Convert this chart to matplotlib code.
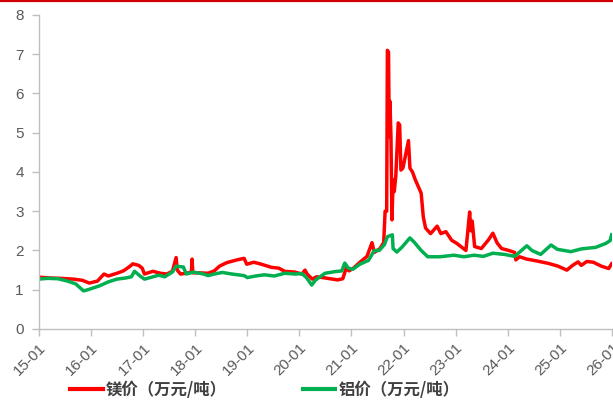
import matplotlib
matplotlib.use("Agg")
import matplotlib.pyplot as plt
import matplotlib.dates as mdates
from matplotlib.lines import Line2D
import pandas as pd

# 镁价 (万元/吨)
mg_dates = [
    "2015-01-01", "2015-03-15", "2015-06-01", "2015-09-01", "2015-11-01", "2015-12-20",
    "2016-02-15", "2016-04-01", "2016-05-01", "2016-07-01", "2016-08-15", "2016-10-01",
    "2016-10-20", "2016-12-01", "2016-12-25", "2017-01-10", "2017-03-10", "2017-05-01",
    "2017-06-15", "2017-07-25", "2017-08-20", "2017-08-28", "2017-09-20", "2017-11-01",
    "2017-12-05", "2017-12-10", "2017-12-15", "2018-02-01", "2018-04-01", "2018-05-15",
    "2018-06-20", "2018-08-10", "2018-10-20", "2018-12-10", "2018-12-28", "2019-02-15",
    "2019-04-01", "2019-06-20", "2019-08-10", "2019-09-20", "2019-12-01", "2020-01-20",
    "2020-02-10", "2020-02-25", "2020-04-01", "2020-05-01", "2020-07-01", "2020-09-25",
    "2020-11-01", "2020-11-25", "2020-12-15", "2021-01-15", "2021-03-01", "2021-04-20",
    "2021-05-25", "2021-06-10", "2021-07-20", "2021-08-15", "2021-08-25", "2021-09-05",
    "2021-09-10", "2021-09-18", "2021-09-23", "2021-09-28", "2021-10-05", "2021-10-12",
    "2021-10-20", "2021-10-28", "2021-11-08", "2021-11-25", "2021-12-05", "2021-12-14",
    "2021-12-28", "2022-02-05", "2022-02-15", "2022-03-05", "2022-03-25", "2022-05-05",
    "2022-05-20", "2022-06-05", "2022-07-10", "2022-08-25", "2022-09-20", "2022-10-25",
    "2022-12-05", "2023-01-10", "2023-03-15", "2023-04-10", "2023-04-18", "2023-04-28",
    "2023-05-15", "2023-07-01", "2023-08-20", "2023-09-20", "2023-10-20", "2023-11-20",
    "2024-01-10", "2024-02-20", "2024-02-28", "2024-03-25", "2024-05-15", "2024-07-15",
    "2024-10-15", "2024-12-20", "2025-02-20", "2025-04-01", "2025-05-10", "2025-06-01",
    "2025-07-10", "2025-08-25", "2025-10-20", "2025-12-10", "2025-12-31",
]
mg_price = [
    1.32, 1.30, 1.29, 1.27, 1.24, 1.17,
    1.22, 1.40, 1.35, 1.42, 1.48, 1.60,
    1.66, 1.62, 1.55, 1.40, 1.47, 1.42,
    1.40, 1.47, 1.82, 1.50, 1.40, 1.42,
    1.45, 1.78, 1.43, 1.43, 1.42, 1.48,
    1.60, 1.69, 1.76, 1.80, 1.65, 1.70,
    1.66, 1.57, 1.55, 1.47, 1.45, 1.40,
    1.50, 1.40, 1.27, 1.33, 1.30, 1.25,
    1.28, 1.55, 1.48, 1.55, 1.70, 1.85,
    2.20, 1.95, 2.05, 2.20, 3.00, 3.00,
    7.10, 7.05, 4.90, 5.80, 4.90, 2.78,
    3.80, 3.50, 3.90, 5.25, 5.20, 4.05,
    4.10, 4.80, 4.10, 4.00, 3.80, 3.46,
    2.85, 2.57, 2.43, 2.62, 2.43, 2.48,
    2.26, 2.18, 2.00, 2.98, 2.50, 2.75,
    2.10, 2.05, 2.27, 2.44, 2.19, 2.05,
    2.00, 1.95, 1.76, 1.84, 1.78, 1.74,
    1.67, 1.60, 1.50, 1.62, 1.71, 1.62,
    1.72, 1.70, 1.60, 1.54, 1.66,
]

# 铝价 (万元/吨)
al_dates = [
    "2015-01-01", "2015-03-01", "2015-05-15", "2015-07-20", "2015-09-15", "2015-11-10",
    "2015-12-10", "2016-01-20", "2016-03-01", "2016-05-01", "2016-07-01", "2016-09-01",
    "2016-10-10", "2016-11-01", "2016-12-10", "2017-01-10", "2017-03-01", "2017-04-20",
    "2017-06-01", "2017-07-25", "2017-08-20", "2017-10-10", "2017-10-30", "2017-12-20",
    "2018-03-01", "2018-04-01", "2018-05-15", "2018-07-10", "2018-09-15", "2018-12-10",
    "2019-01-01", "2019-03-01", "2019-05-01", "2019-07-10", "2019-09-20", "2019-12-01",
    "2020-01-20", "2020-02-20", "2020-03-28", "2020-04-25", "2020-06-30", "2020-09-05",
    "2020-10-25", "2020-11-15", "2020-12-10", "2021-01-10", "2021-03-01", "2021-05-01",
    "2021-06-10", "2021-07-15", "2021-08-20", "2021-09-10", "2021-10-15", "2021-10-20",
    "2021-11-15", "2021-12-20", "2022-02-15", "2022-03-20", "2022-05-05", "2022-06-20",
    "2022-09-15", "2022-12-20", "2023-03-01", "2023-05-10", "2023-07-15", "2023-09-20",
    "2023-12-10", "2024-02-20", "2024-05-15", "2024-06-20", "2024-08-20", "2024-11-01",
    "2024-12-15", "2025-03-20", "2025-06-01", "2025-09-10", "2025-11-20", "2025-12-20",
    "2025-12-31",
]
al_price = [
    1.27, 1.29, 1.28, 1.22, 1.15, 0.97,
    1.00, 1.05, 1.10, 1.20, 1.27, 1.30,
    1.33, 1.47, 1.35, 1.27, 1.32, 1.37,
    1.33, 1.45, 1.60, 1.58, 1.40, 1.45,
    1.40, 1.36, 1.40, 1.44, 1.40, 1.36,
    1.31, 1.35, 1.38, 1.35, 1.42, 1.40,
    1.41, 1.31, 1.12, 1.25, 1.42, 1.46,
    1.48, 1.68, 1.55, 1.52, 1.65, 1.75,
    2.00, 2.00, 2.15, 2.35, 2.40, 2.05,
    1.96, 2.08, 2.32, 2.20, 2.00, 1.84,
    1.84, 1.88, 1.84, 1.88, 1.85, 1.93,
    1.90, 1.85, 2.12, 2.00, 1.90, 2.14,
    2.03, 1.97, 2.04, 2.08, 2.18, 2.25,
    2.40,
]

y_ticks = [0, 1, 2, 3, 4, 5, 6, 7, 8]
mg_label = "镁价（万元/吨）"
al_label = "铝价（万元/吨）"

plt.rcParams["font.family"] = ["Liberation Sans", "DejaVu Sans"]

fig = plt.figure(figsize=(6.13, 4.01), dpi=100)
ax = fig.add_axes([0.0636, 0.1796, 0.9344, 0.783])

mg = pd.Series(mg_price, index=pd.to_datetime(mg_dates))
al = pd.Series(al_price, index=pd.to_datetime(al_dates))

ax.plot(mg.index, mg.values, color="#ff0000", lw=2.5, solid_joinstyle="round")
ax.plot(al.index, al.values, color="#00b050", lw=2.5, solid_joinstyle="round")

ax.set_xlim(pd.Timestamp("2015-01-01"), pd.Timestamp("2026-01-01"))
ax.set_ylim(0, 8)
ax.set_yticks(y_ticks)
ax.xaxis.set_major_locator(mdates.YearLocator())
ax.xaxis.set_major_formatter(mdates.DateFormatter("%y-%m"))

for side in ("top", "right"):
    ax.spines[side].set_visible(False)
for side in ("left", "bottom"):
    ax.spines[side].set_color("#bfbfbf")
    ax.spines[side].set_linewidth(1.0)

ax.tick_params(axis="both", colors="#bfbfbf", length=5, width=1.0,
               labelcolor="#595959", labelsize=11)
ax.tick_params(axis="y", pad=6)
for lbl in ax.get_xticklabels():
    lbl.set_rotation(45)
    lbl.set_ha("right")
    lbl.set_rotation_mode("anchor")

# thin red rule along the top edge
fig.add_artist(Line2D([0, 1], [0.997, 0.997], transform=fig.transFigure,
                      color="#d00000", lw=1.6))

handles = [Line2D([], [], color="#ff0000", lw=3),
           Line2D([], [], color="#00b050", lw=3)]
leg = fig.legend(handles, [mg_label, al_label], loc="center",
                 bbox_to_anchor=(0.432, 0.028), ncol=2, frameon=False,
                 handlelength=2.0, handletextpad=0.2, columnspacing=4.6,
                 prop={"family": ["Noto Sans CJK SC", "DejaVu Sans"],
                       "weight": "bold", "size": 11.8})
for t in leg.get_texts():
    t.set_color("#404040")

fig.savefig("out.png", dpi=100)
